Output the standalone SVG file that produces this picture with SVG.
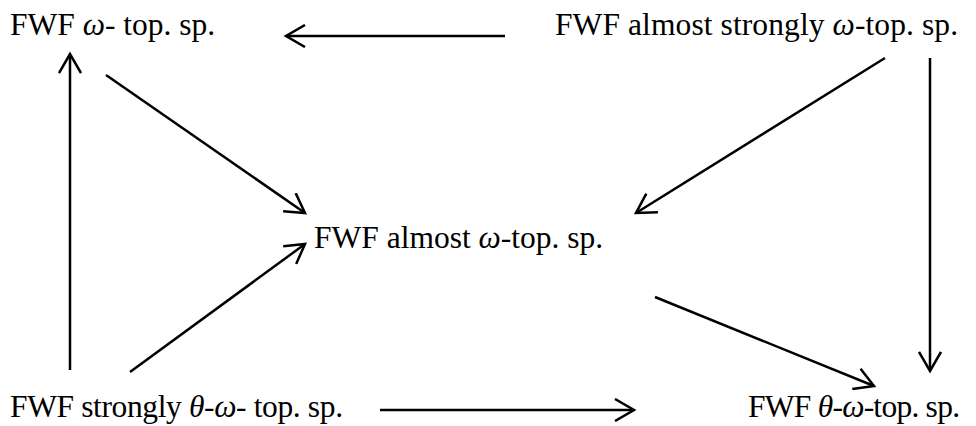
<svg xmlns="http://www.w3.org/2000/svg" width="976" height="426" viewBox="0 0 976 426">
  <defs>
    <marker id="head" viewBox="0 0 24 24" refX="21" refY="12" markerWidth="24" markerHeight="24" markerUnits="userSpaceOnUse" orient="auto">
      <path d="M2,1 L21,12 L2,23" fill="none" stroke="#000" stroke-width="2.5"/>
    </marker>
  </defs>
  <style>
    .lbl { font-family: "Liberation Serif", "Times New Roman", serif; font-size: 31.5px; fill: #000; }
    .it { font-style: italic; }
    .edge { stroke: #000; stroke-width: 2.5; fill: none; marker-end: url(#head); }
  </style>
  <rect width="976" height="426" fill="#fff"/>

  <g id="connectors">
    <line class="edge" x1="505" y1="36" x2="286" y2="36"/>
    <line class="edge" x1="70" y1="370" x2="70" y2="54"/>
    <line class="edge" x1="106" y1="75" x2="305" y2="213"/>
    <line class="edge" x1="130" y1="372" x2="305" y2="244"/>
    <line class="edge" x1="885" y1="58" x2="636" y2="213"/>
    <line class="edge" x1="930" y1="58" x2="930" y2="371"/>
    <line class="edge" x1="655" y1="297" x2="874" y2="386"/>
    <line class="edge" x1="380" y1="410" x2="634" y2="410"/>
  </g>

  <g id="n-omega">
    <text class="lbl" x="10" y="35">FWF <tspan class="it">ω</tspan>- top. sp.</text>
  </g>
  <g id="n-almost-strongly">
    <text class="lbl" x="555" y="35" textLength="403" lengthAdjust="spacing">FWF almost strongly <tspan class="it">ω</tspan>-top. sp.</text>
  </g>
  <g id="n-almost">
    <text class="lbl" x="314" y="248">FWF almost <tspan class="it">ω</tspan>-top. sp.</text>
  </g>
  <g id="n-strongly-theta">
    <text class="lbl" x="10" y="417" textLength="333" lengthAdjust="spacing">FWF strongly <tspan class="it">θ</tspan>-<tspan class="it">ω</tspan>- top. sp.</text>
  </g>
  <g id="n-theta">
    <text class="lbl" x="748" y="417" textLength="212" lengthAdjust="spacing">FWF <tspan class="it">θ</tspan>-<tspan class="it">ω</tspan>-top. sp.</text>
  </g>
</svg>
